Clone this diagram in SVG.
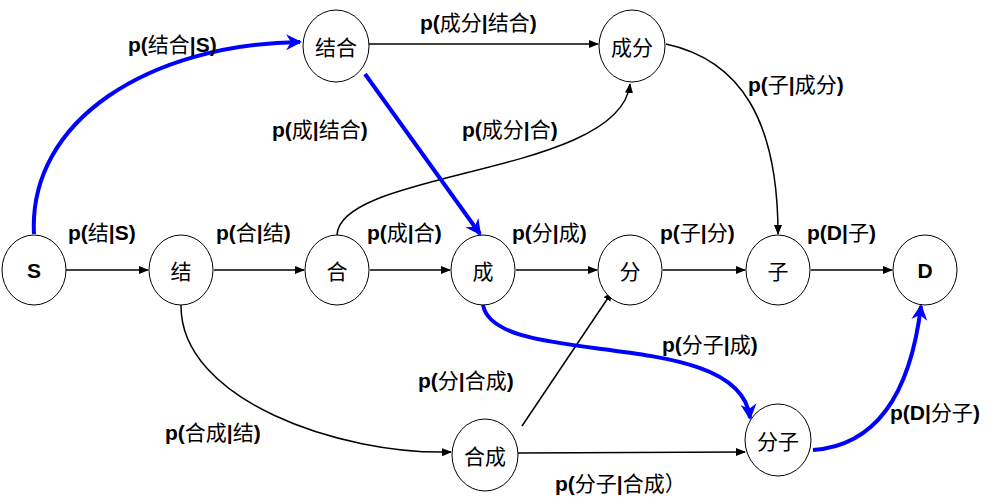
<svg xmlns="http://www.w3.org/2000/svg" width="1000" height="501" viewBox="0 0 1000 501">
<style>
.n ellipse{fill:#fff;stroke:#000;stroke-width:1}
.n text{font-family:"Noto Sans CJK SC","Liberation Sans",sans-serif;font-size:21px;text-anchor:middle;dominant-baseline:central}
.n text.b{font-family:"Liberation Sans",sans-serif;font-weight:bold}
.k{fill:none;stroke:#000;stroke-width:1.5}
.bl{fill:none;stroke:#0000ff;stroke-width:4}
.l{font-family:"Liberation Sans","Noto Sans CJK SC",sans-serif;font-size:21px;font-weight:bold}
.l tspan{font-family:"Noto Sans CJK SC",sans-serif;font-weight:normal}
</style>
<defs>
<marker id="a" markerWidth="10" markerHeight="10" refX="9" refY="5" orient="auto" markerUnits="userSpaceOnUse"><path d="M0,1 L10,5 L0,9 z" fill="#000"/></marker>
<marker id="ab" markerWidth="18" markerHeight="18" refX="14" refY="9" orient="auto" markerUnits="userSpaceOnUse"><path d="M0,1 L16,9 L0,17 L5,9 z" fill="#0000ff"/></marker>
</defs>
<rect width="1000" height="501" fill="#fff"/>
<g id="connectors">
<path class="k" d="M66,270 L148,270" marker-end="url(#a)"/>
<path class="k" d="M214,270 L304,270" marker-end="url(#a)"/>
<path class="k" d="M370,270 L450,270" marker-end="url(#a)"/>
<path class="k" d="M516,270 L597,270" marker-end="url(#a)"/>
<path class="k" d="M663,270 L745,270" marker-end="url(#a)"/>
<path class="k" d="M811,270 L892,270" marker-end="url(#a)"/>
<path class="k" d="M369,44 L598,44" marker-end="url(#a)"/>
<path class="k" d="M337,235 C340,170 620,175 630,84" marker-end="url(#a)"/>
<path class="k" d="M666,44 C740,60 778,120 778,234" marker-end="url(#a)"/>
<path class="k" d="M181,305 C180,400 340,455 451,452" marker-end="url(#a)"/>
<path class="k" d="M522,426 L612,292" marker-end="url(#a)"/>
<path class="k" d="M518,453 L745,452" marker-end="url(#a)"/>
<path class="bl" d="M34,234 C28,120 150,44 300,42" marker-end="url(#ab)"/>
<path class="bl" d="M365,74 L480,234" marker-end="url(#ab)"/>
<path class="bl" d="M483,305 C495,370 740,325 750,418" marker-end="url(#ab)"/>
<path class="bl" d="M813,450 C885,445 912,380 921,306" marker-end="url(#ab)"/>
</g>
<g id="S" class="n"><ellipse cx="34" cy="270" rx="32" ry="35"/><text class="b" x="34" y="270">S</text></g>
<g id="jie" class="n"><ellipse cx="181" cy="270" rx="32" ry="35"/><text x="181" y="270">结</text></g>
<g id="he" class="n"><ellipse cx="337" cy="270" rx="32" ry="35"/><text x="337" y="270">合</text></g>
<g id="cheng" class="n"><ellipse cx="483" cy="270" rx="32" ry="35"/><text x="483" y="270">成</text></g>
<g id="fen" class="n"><ellipse cx="630" cy="270" rx="32" ry="35"/><text x="630" y="270">分</text></g>
<g id="zi" class="n"><ellipse cx="778" cy="270" rx="32" ry="35"/><text x="778" y="270">子</text></g>
<g id="D" class="n"><ellipse cx="925" cy="270" rx="32" ry="35"/><text class="b" x="925" y="270">D</text></g>
<g id="jiehe" class="n"><ellipse cx="336" cy="46" rx="33" ry="36"/><text x="336" y="46">结合</text></g>
<g id="chengfen" class="n"><ellipse cx="632" cy="46" rx="33" ry="36"/><text x="632" y="46">成分</text></g>
<g id="hecheng" class="n"><ellipse cx="485" cy="455" rx="33" ry="36"/><text x="485" y="455">合成</text></g>
<g id="fenzi" class="n"><ellipse cx="778" cy="440" rx="33" ry="36"/><text x="778" y="440">分子</text></g>
<g id="labels">
<text class="l" x="128" y="52">p(<tspan>结合</tspan>|S)</text>
<text class="l" x="420" y="30">p(<tspan>成分</tspan>|<tspan>结合</tspan>)</text>
<text class="l" x="748" y="92">p(<tspan>子</tspan>|<tspan>成分</tspan>)</text>
<text class="l" x="272" y="137">p(<tspan>成</tspan>|<tspan>结合</tspan>)</text>
<text class="l" x="462" y="137">p(<tspan>成分</tspan>|<tspan>合</tspan>)</text>
<text class="l" x="68" y="240">p(<tspan>结</tspan>|S)</text>
<text class="l" x="216" y="240">p(<tspan>合</tspan>|<tspan>结</tspan>)</text>
<text class="l" x="367" y="240">p(<tspan>成</tspan>|<tspan>合</tspan>)</text>
<text class="l" x="512" y="240">p(<tspan>分</tspan>|<tspan>成</tspan>)</text>
<text class="l" x="660" y="240">p(<tspan>子</tspan>|<tspan>分</tspan>)</text>
<text class="l" x="807" y="240">p(D|<tspan>子</tspan>)</text>
<text class="l" x="662" y="352">p(<tspan>分子</tspan>|<tspan>成</tspan>)</text>
<text class="l" x="418" y="388">p(<tspan>分</tspan>|<tspan>合成</tspan>)</text>
<text class="l" x="165" y="440">p(<tspan>合成</tspan>|<tspan>结</tspan>)</text>
<text class="l" x="890" y="420">p(D|<tspan>分子</tspan>)</text>
<text class="l" x="555" y="491">p(<tspan>分子</tspan>|<tspan>合成）</tspan></text>
</g>
</svg>
